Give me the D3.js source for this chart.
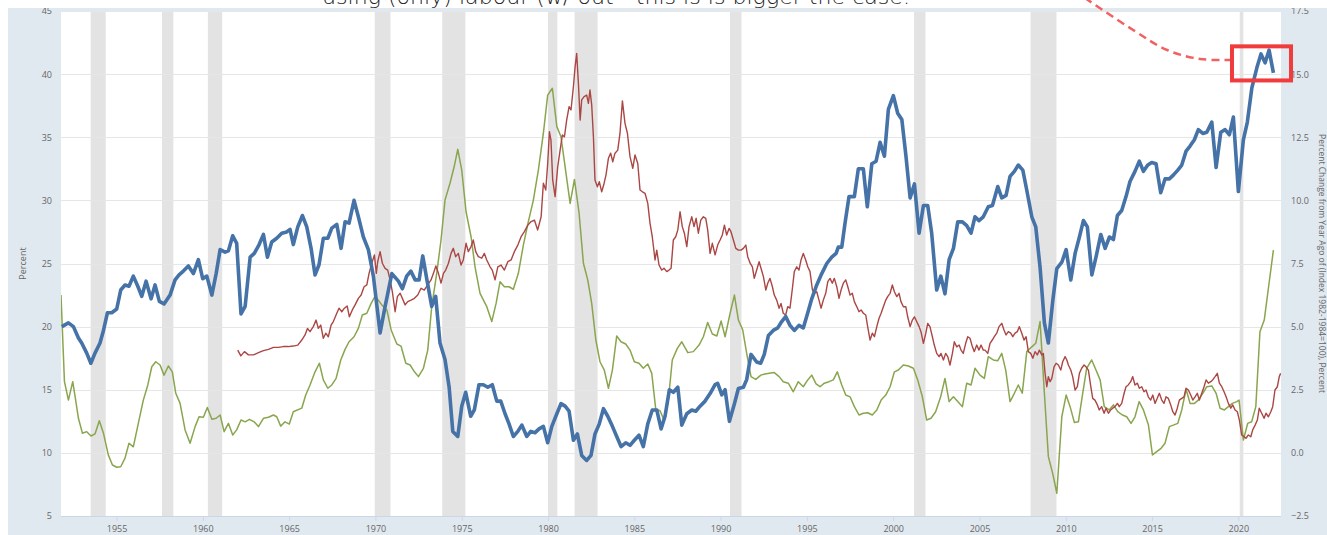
<!DOCTYPE html>
<html><head><meta charset="utf-8">
<script src="https://cdn.jsdelivr.net/npm/d3@7"></script>
<style>
html,body{margin:0;padding:0;background:#fff;}
svg{display:block;}
text{font-family:"Open Sans","DejaVu Sans",sans-serif;}
</style></head>
<body><svg id="c" width="1327" height="535"></svg>
<script>
// ---------- DATA ----------
// Blue series (left axis, Percent), quarterly: [year, value]
const blueSeries = [
[1951.83,20.0],[1952.21,20.3],[1952.50,20.0],[1952.79,19.1],[1952.98,18.7],[1953.27,17.9],[1953.51,17.1],[1953.75,17.9],[1954.04,18.7],[1954.24,19.7],[1954.47,21.1],[1954.72,21.1],[1955.01,21.4],[1955.24,22.9],[1955.49,23.3],[1955.72,23.2],[1955.97,24.0],[1956.23,23.2],[1956.46,22.4],[1956.71,23.6],[1957.00,22.2],[1957.23,23.3],[1957.48,22.0],[1957.75,21.8],[1958.10,22.5],[1958.39,23.7],[1958.62,24.1],[1958.87,24.4],[1959.16,24.8],[1959.45,24.2],[1959.74,25.3],[1959.99,23.8],[1960.23,24.0],[1960.52,22.5],[1960.77,24.2],[1961.00,26.1],[1961.29,25.9],[1961.48,26.0],[1961.73,27.2],[1961.96,26.6],[1962.21,21.0],[1962.45,21.6],[1962.74,25.5],[1962.98,25.8],[1963.26,26.5],[1963.51,27.3],[1963.74,25.5],[1963.99,26.7],[1964.28,27.0],[1964.57,27.4],[1964.86,27.5],[1965.05,27.7],[1965.24,26.5],[1965.50,27.9],[1965.77,28.8],[1966.02,27.9],[1966.27,26.2],[1966.50,24.1],[1966.73,24.9],[1966.98,27.0],[1967.24,27.0],[1967.47,27.8],[1967.76,28.1],[1968.01,26.2],[1968.24,28.3],[1968.47,28.2],[1968.76,30.0],[1969.01,28.7],[1969.30,27.1],[1969.59,26.1],[1969.88,24.0],[1970.27,19.5],[1970.56,21.6],[1970.95,24.2],[1971.33,23.6],[1971.56,23.0],[1971.81,24.0],[1972.05,24.4],[1972.30,23.7],[1972.53,23.7],[1972.74,25.6],[1972.97,23.8],[1973.26,21.6],[1973.49,22.4],[1973.74,18.7],[1974.03,17.4],[1974.27,15.2],[1974.48,11.7],[1974.77,11.3],[1975.00,13.7],[1975.23,14.8],[1975.52,12.9],[1975.73,13.4],[1976.00,15.4],[1976.25,15.4],[1976.51,15.2],[1976.77,15.4],[1977.03,14.1],[1977.26,14.1],[1977.51,13.1],[1977.74,12.3],[1977.99,11.3],[1978.25,11.7],[1978.48,12.2],[1978.77,11.3],[1979.00,11.7],[1979.25,11.6],[1979.48,11.9],[1979.73,12.1],[1979.98,10.8],[1980.22,12.1],[1980.51,13.1],[1980.75,13.9],[1980.99,13.7],[1981.22,13.3],[1981.47,11.0],[1981.70,11.5],[1981.95,9.8],[1982.24,9.4],[1982.49,9.8],[1982.72,11.5],[1982.97,12.3],[1983.21,13.5],[1983.46,12.9],[1983.73,12.1],[1983.98,11.3],[1984.23,10.5],[1984.50,10.8],[1984.75,10.6],[1985.00,11.0],[1985.27,11.4],[1985.52,10.5],[1985.78,12.3],[1986.04,13.4],[1986.30,13.4],[1986.55,11.9],[1986.78,12.9],[1987.03,15.0],[1987.26,14.8],[1987.52,15.2],[1987.75,12.2],[1988.04,13.1],[1988.33,13.4],[1988.56,13.3],[1988.81,13.7],[1989.10,14.1],[1989.39,14.7],[1989.68,15.4],[1989.83,15.5],[1990.07,14.6],[1990.26,15.0],[1990.51,12.5],[1990.80,13.9],[1991.03,15.1],[1991.32,15.2],[1991.51,15.8],[1991.76,17.8],[1992.09,17.2],[1992.32,17.1],[1992.53,17.8],[1992.77,19.3],[1993.05,19.7],[1993.31,19.9],[1993.54,20.4],[1993.77,20.8],[1994.02,20.1],[1994.27,19.7],[1994.54,20.1],[1994.79,19.9],[1995.05,21.1],[1995.28,22.2],[1995.57,23.3],[1995.86,24.2],[1996.15,25.0],[1996.44,25.5],[1996.69,25.8],[1996.82,26.3],[1997.02,26.3],[1997.21,28.2],[1997.44,30.3],[1997.75,30.3],[1997.98,32.5],[1998.27,32.5],[1998.50,29.5],[1998.76,32.9],[1999.01,33.1],[1999.24,34.6],[1999.49,33.5],[1999.72,37.2],[2000.01,38.3],[2000.26,36.9],[2000.50,36.4],[2000.74,33.5],[2000.98,30.2],[2001.23,31.3],[2001.50,27.4],[2001.75,29.6],[2002.00,29.6],[2002.23,27.4],[2002.52,22.9],[2002.76,24.0],[2003.00,22.6],[2003.24,25.3],[2003.49,26.2],[2003.74,28.3],[2004.01,28.3],[2004.26,28.0],[2004.51,27.4],[2004.74,28.7],[2004.97,28.4],[2005.22,28.7],[2005.51,29.5],[2005.75,29.6],[2006.06,31.1],[2006.29,30.2],[2006.54,30.4],[2006.77,31.9],[2007.02,32.3],[2007.25,32.8],[2007.51,32.4],[2007.74,30.8],[2008.03,28.7],[2008.26,27.9],[2008.51,24.7],[2008.76,20.3],[2008.99,18.7],[2009.25,22.1],[2009.48,24.6],[2009.77,25.1],[2010.02,26.1],[2010.29,23.7],[2010.54,25.8],[2010.79,27.1],[2011.02,28.4],[2011.25,27.9],[2011.51,24.1],[2011.75,25.5],[2012.03,27.3],[2012.28,26.2],[2012.53,27.1],[2012.76,26.9],[2012.99,28.8],[2013.24,29.2],[2013.49,30.3],[2013.72,31.5],[2014.01,32.3],[2014.26,33.1],[2014.50,32.3],[2014.75,32.8],[2014.98,33.0],[2015.23,32.9],[2015.50,30.6],[2015.75,31.7],[2016.00,31.7],[2016.23,32.0],[2016.49,32.4],[2016.72,32.8],[2016.97,33.9],[2017.20,34.3],[2017.45,34.8],[2017.68,35.6],[2017.94,35.3],[2018.17,35.4],[2018.46,36.2],[2018.71,32.6],[2018.98,35.4],[2019.23,35.6],[2019.48,35.2],[2019.71,36.6],[2020.00,30.7],[2020.29,34.8],[2020.52,36.2],[2020.78,38.9],[2021.07,40.5],[2021.31,41.6],[2021.55,40.9],[2021.78,41.9],[2022.03,40.1]
];
// Green series (right axis): CPI, percent change from year ago
const greenSeries = [
[1951.78,6.25],[1951.98,2.82],[1952.21,2.09],[1952.46,2.82],[1952.60,2.22],[1952.79,1.37],[1953.02,0.78],[1953.27,0.84],[1953.52,0.67],[1953.75,0.75],[1954.00,1.27],[1954.24,0.78],[1954.52,-0.08],[1954.76,-0.48],[1955.01,-0.57],[1955.24,-0.55],[1955.49,-0.21],[1955.72,0.38],[1955.97,0.24],[1956.26,1.17],[1956.55,2.09],[1956.81,2.69],[1957.04,3.41],[1957.27,3.61],[1957.52,3.48],[1957.75,3.08],[1958.00,3.44],[1958.23,3.21],[1958.43,2.36],[1958.68,1.96],[1958.97,0.91],[1959.26,0.38],[1959.55,1.04],[1959.78,1.43],[1960.03,1.41],[1960.26,1.80],[1960.52,1.33],[1960.77,1.37],[1961.00,1.50],[1961.23,0.84],[1961.48,1.17],[1961.73,0.71],[1961.96,0.91],[1962.21,1.30],[1962.45,1.23],[1962.70,1.33],[1962.97,1.23],[1963.22,1.04],[1963.51,1.37],[1963.80,1.41],[1964.09,1.50],[1964.28,1.43],[1964.51,1.06],[1964.76,1.23],[1965.01,1.14],[1965.24,1.63],[1965.73,1.77],[1965.96,2.29],[1966.21,2.69],[1966.50,3.21],[1966.75,3.55],[1966.98,2.89],[1967.24,2.56],[1967.47,2.69],[1967.72,2.95],[1967.99,3.68],[1968.24,4.10],[1968.47,4.40],[1968.76,4.60],[1969.01,4.93],[1969.24,5.46],[1969.50,5.53],[1969.75,5.92],[1969.98,6.21],[1970.37,5.86],[1970.66,5.66],[1970.91,4.87],[1971.24,4.31],[1971.48,4.23],[1971.76,3.55],[1972.01,3.48],[1972.26,3.21],[1972.49,3.02],[1972.78,3.35],[1973.03,4.07],[1973.26,5.79],[1973.55,7.11],[1973.80,8.43],[1974.03,10.01],[1974.32,10.68],[1974.56,11.33],[1974.77,12.02],[1975.00,11.20],[1975.25,9.55],[1975.54,8.56],[1975.77,7.37],[1976.06,6.32],[1976.45,5.79],[1976.74,5.20],[1976.99,5.92],[1977.22,6.78],[1977.47,6.58],[1977.74,6.58],[1977.99,6.48],[1978.28,7.11],[1978.57,8.23],[1978.86,9.16],[1979.15,10.01],[1979.44,11.20],[1979.73,12.66],[1979.98,14.17],[1980.25,14.44],[1980.51,12.92],[1980.75,12.52],[1980.99,11.33],[1981.28,9.88],[1981.53,10.83],[1981.80,9.49],[1982.05,7.51],[1982.30,6.85],[1982.53,5.92],[1982.77,4.47],[1983.01,3.61],[1983.26,3.28],[1983.50,2.56],[1983.73,3.28],[1983.98,4.63],[1984.23,4.40],[1984.50,4.31],[1984.75,4.07],[1985.00,3.61],[1985.27,3.55],[1985.52,3.35],[1985.78,3.52],[1986.01,3.15],[1986.24,1.73],[1986.49,1.67],[1986.72,1.30],[1986.97,2.09],[1987.20,3.68],[1987.49,4.14],[1987.75,4.40],[1988.10,3.97],[1988.42,4.01],[1988.75,4.27],[1989.00,4.60],[1989.25,5.16],[1989.52,4.71],[1989.78,4.63],[1990.03,5.22],[1990.26,4.60],[1990.55,5.53],[1990.80,6.25],[1991.03,5.26],[1991.28,4.87],[1991.51,3.94],[1991.76,3.02],[1992.04,2.91],[1992.33,3.08],[1992.57,3.12],[1992.82,3.15],[1993.11,3.18],[1993.39,3.02],[1993.63,2.82],[1993.92,2.76],[1994.21,2.42],[1994.50,2.82],[1994.79,2.62],[1995.05,2.89],[1995.28,3.08],[1995.53,2.73],[1995.76,2.62],[1996.01,2.76],[1996.28,2.82],[1996.53,2.89],[1996.76,3.21],[1997.02,2.69],[1997.25,2.29],[1997.50,2.22],[1997.75,1.83],[1998.02,1.50],[1998.27,1.57],[1998.52,1.59],[1998.79,1.50],[1999.05,1.70],[1999.30,2.09],[1999.57,2.29],[1999.82,2.62],[2000.07,3.21],[2000.30,3.28],[2000.59,3.48],[2000.88,3.44],[2001.17,3.35],[2001.42,2.89],[2001.69,2.22],[2001.94,1.30],[2002.19,1.37],[2002.46,1.63],[2002.75,2.22],[2003.00,2.95],[2003.24,2.03],[2003.49,2.22],[2003.74,2.03],[2004.01,1.83],[2004.26,2.76],[2004.51,2.69],[2004.74,3.35],[2005.03,3.08],[2005.28,2.95],[2005.51,3.81],[2005.80,3.68],[2006.06,3.65],[2006.29,3.94],[2006.52,3.28],[2006.77,2.03],[2007.02,2.36],[2007.25,2.69],[2007.48,2.36],[2007.74,4.01],[2008.03,4.20],[2008.26,4.34],[2008.51,5.20],[2008.76,2.36],[2008.99,-0.15],[2009.24,-0.81],[2009.48,-1.60],[2009.77,1.43],[2010.02,2.29],[2010.25,1.83],[2010.50,1.20],[2010.73,1.23],[2010.98,2.36],[2011.21,3.35],[2011.50,3.68],[2011.75,3.28],[2011.99,2.89],[2012.23,1.83],[2012.51,1.70],[2012.76,1.90],[2013.01,1.63],[2013.28,1.50],[2013.53,1.43],[2013.78,1.17],[2014.01,1.43],[2014.25,2.03],[2014.50,1.70],[2014.79,1.10],[2015.02,-0.08],[2015.27,0.05],[2015.52,0.18],[2015.75,0.38],[2016.00,1.04],[2016.23,1.10],[2016.49,1.17],[2016.72,1.70],[2016.97,2.52],[2017.20,1.96],[2017.45,1.96],[2017.68,2.09],[2017.94,2.36],[2018.17,2.62],[2018.46,2.65],[2018.71,2.36],[2018.94,1.77],[2019.19,1.70],[2019.42,1.83],[2019.65,1.96],[2019.91,2.03],[2020.04,2.09],[2020.29,0.51],[2020.54,1.17],[2020.77,1.23],[2021.01,1.83],[2021.25,4.80],[2021.50,5.26],[2021.74,6.52],[2022.03,8.03]
];
// Red series (right axis): 10-year yield, percent
const redSeries = [
[1962.02,4.07],[1962.20,3.84],[1962.41,4.01],[1962.64,3.88],[1962.93,3.88],[1963.22,3.97],[1963.51,4.05],[1963.80,4.10],[1964.09,4.18],[1964.38,4.18],[1964.66,4.21],[1964.95,4.21],[1965.24,4.23],[1965.50,4.27],[1965.73,4.47],[1965.92,4.67],[1966.06,4.93],[1966.21,4.80],[1966.40,5.00],[1966.56,5.26],[1966.69,4.93],[1966.83,5.06],[1966.98,4.54],[1967.12,4.74],[1967.27,4.60],[1967.43,5.06],[1967.56,5.20],[1967.76,5.53],[1967.89,5.73],[1968.05,5.59],[1968.20,5.73],[1968.36,5.82],[1968.49,5.39],[1968.66,5.66],[1968.82,5.86],[1969.01,6.12],[1969.17,6.25],[1969.34,6.58],[1969.50,6.65],[1969.63,7.11],[1969.79,7.51],[1969.94,7.84],[1970.05,7.11],[1970.13,7.57],[1970.27,7.97],[1970.40,7.51],[1970.56,7.31],[1970.71,7.24],[1970.85,6.85],[1970.98,6.38],[1971.14,5.59],[1971.27,6.19],[1971.43,6.32],[1971.56,6.12],[1971.72,5.86],[1971.87,5.99],[1972.06,6.05],[1972.26,6.12],[1972.45,6.25],[1972.64,6.52],[1972.83,6.45],[1973.03,6.65],[1973.22,6.85],[1973.36,7.11],[1973.50,7.40],[1973.65,7.11],[1973.80,6.72],[1973.94,7.11],[1974.07,7.24],[1974.23,7.51],[1974.38,7.90],[1974.51,8.10],[1974.65,7.77],[1974.80,7.90],[1974.96,7.44],[1975.09,7.64],[1975.25,8.30],[1975.38,7.97],[1975.54,8.17],[1975.67,8.43],[1975.81,7.97],[1975.96,7.77],[1976.16,7.71],[1976.31,7.90],[1976.45,7.64],[1976.64,7.37],[1976.77,7.24],[1976.93,6.85],[1977.09,7.37],[1977.28,7.44],[1977.47,7.24],[1977.67,7.57],[1977.86,7.64],[1978.05,7.97],[1978.25,8.23],[1978.44,8.56],[1978.63,8.76],[1978.83,9.02],[1979.02,9.16],[1979.21,9.22],[1979.40,8.83],[1979.60,9.35],[1979.73,10.68],[1979.87,10.41],[1979.98,11.46],[1980.08,12.72],[1980.17,12.39],[1980.27,10.81],[1980.41,10.15],[1980.56,11.33],[1980.70,11.99],[1980.83,12.59],[1980.95,12.52],[1981.08,13.18],[1981.22,13.71],[1981.33,13.58],[1981.47,14.50],[1981.57,15.30],[1981.66,15.82],[1981.76,14.64],[1981.86,13.18],[1981.95,13.98],[1982.09,14.11],[1982.24,14.17],[1982.34,13.84],[1982.43,14.37],[1982.53,13.78],[1982.63,12.52],[1982.72,10.81],[1982.86,10.54],[1982.97,10.74],[1983.11,10.34],[1983.25,10.68],[1983.36,11.01],[1983.50,11.67],[1983.63,11.87],[1983.75,11.53],[1983.88,11.87],[1984.04,11.99],[1984.17,12.66],[1984.31,13.94],[1984.46,13.05],[1984.60,12.66],[1984.75,11.73],[1984.91,11.27],[1985.04,11.80],[1985.20,11.46],[1985.33,10.41],[1985.47,10.34],[1985.62,10.28],[1985.78,9.88],[1985.91,9.09],[1986.04,8.56],[1986.20,7.64],[1986.30,8.03],[1986.43,7.44],[1986.59,7.24],[1986.72,7.31],[1986.88,7.18],[1987.01,7.24],[1987.13,7.31],[1987.26,8.43],[1987.40,8.56],[1987.52,8.83],[1987.65,9.55],[1987.78,8.96],[1987.90,8.70],[1988.04,8.17],[1988.17,8.96],[1988.33,9.35],[1988.46,8.96],[1988.58,9.29],[1988.71,8.70],[1988.85,9.22],[1989.00,9.35],[1989.14,9.29],[1989.25,8.83],[1989.39,7.90],[1989.52,8.30],[1989.68,7.84],[1989.83,8.23],[1989.97,8.43],[1990.10,8.63],[1990.22,9.02],[1990.35,8.63],[1990.49,8.89],[1990.60,8.76],[1990.74,8.43],[1990.88,8.10],[1991.03,8.03],[1991.18,8.03],[1991.32,8.10],[1991.46,8.23],[1991.57,7.77],[1991.71,7.51],[1991.84,7.37],[1991.95,6.91],[1992.09,7.24],[1992.23,7.57],[1992.34,7.31],[1992.48,6.98],[1992.62,6.45],[1992.73,6.72],[1992.86,6.91],[1993.00,6.58],[1993.11,6.25],[1993.25,6.05],[1993.39,5.73],[1993.50,5.92],[1993.63,5.53],[1993.77,5.46],[1993.89,5.79],[1994.02,5.73],[1994.16,6.52],[1994.27,7.18],[1994.41,7.37],[1994.54,7.24],[1994.66,7.64],[1994.79,7.90],[1994.93,7.64],[1995.05,7.37],[1995.18,7.18],[1995.32,6.45],[1995.43,6.32],[1995.57,6.38],[1995.70,6.05],[1995.82,5.73],[1995.95,6.05],[1996.09,6.32],[1996.21,6.78],[1996.34,6.91],[1996.47,6.72],[1996.59,6.91],[1996.73,6.58],[1996.86,6.12],[1996.98,6.45],[1997.11,6.72],[1997.25,6.85],[1997.37,6.58],[1997.50,6.25],[1997.63,6.32],[1997.75,5.99],[1997.89,5.79],[1998.02,5.59],[1998.14,5.66],[1998.27,5.53],[1998.41,5.46],[1998.52,5.00],[1998.66,4.47],[1998.79,4.74],[1998.91,4.60],[1999.05,5.00],[1999.18,5.33],[1999.30,5.53],[1999.43,5.79],[1999.57,6.05],[1999.68,6.19],[1999.82,6.32],[1999.95,6.65],[2000.07,6.38],[2000.21,6.19],[2000.34,6.32],[2000.45,5.99],[2000.59,5.79],[2000.73,5.79],[2000.84,5.39],[2000.98,5.00],[2001.11,5.26],[2001.23,5.39],[2001.36,5.20],[2001.50,5.00],[2001.61,4.80],[2001.75,4.34],[2001.89,4.74],[2002.00,5.13],[2002.13,5.00],[2002.27,4.60],[2002.38,4.27],[2002.52,3.94],[2002.66,3.81],[2002.77,3.94],[2002.91,3.68],[2003.04,3.94],[2003.16,3.81],[2003.29,3.48],[2003.43,3.94],[2003.54,4.40],[2003.68,4.20],[2003.82,4.27],[2003.93,4.07],[2004.06,3.94],[2004.20,4.34],[2004.32,4.60],[2004.45,4.54],[2004.59,4.20],[2004.70,4.01],[2004.84,4.27],[2004.97,4.07],[2005.09,4.27],[2005.22,4.07],[2005.32,4.07],[2005.48,3.94],[2005.61,4.34],[2005.74,4.47],[2005.86,4.60],[2006.00,4.74],[2006.13,5.00],[2006.29,5.13],[2006.42,4.87],[2006.54,4.67],[2006.67,4.80],[2006.81,4.74],[2006.93,4.60],[2007.06,4.74],[2007.19,4.80],[2007.31,5.00],[2007.45,4.74],[2007.58,4.47],[2007.70,4.60],[2007.83,4.01],[2007.97,3.94],[2008.09,3.75],[2008.22,4.01],[2008.35,3.88],[2008.47,4.07],[2008.61,3.88],[2008.70,3.94],[2008.80,3.15],[2008.90,2.62],[2008.99,3.02],[2009.09,2.82],[2009.19,2.95],[2009.32,3.41],[2009.44,3.55],[2009.57,3.48],[2009.71,3.28],[2009.82,3.61],[2009.96,3.81],[2010.06,3.68],[2010.15,3.48],[2010.29,3.28],[2010.40,3.02],[2010.54,2.49],[2010.67,2.62],[2010.79,3.15],[2010.92,3.35],[2011.06,3.48],[2011.17,3.41],[2011.31,3.28],[2011.45,2.62],[2011.56,2.16],[2011.69,2.09],[2011.83,1.90],[2011.94,1.70],[2012.08,1.83],[2012.22,1.57],[2012.33,1.77],[2012.47,1.57],[2012.60,1.70],[2012.72,1.77],[2012.85,1.83],[2012.99,1.96],[2013.10,1.83],[2013.24,1.96],[2013.38,2.36],[2013.49,2.62],[2013.62,2.69],[2013.76,2.82],[2013.88,3.02],[2014.01,2.69],[2014.15,2.76],[2014.26,2.56],[2014.40,2.62],[2014.53,2.42],[2014.65,2.49],[2014.78,2.22],[2014.92,2.09],[2015.04,2.29],[2015.17,1.96],[2015.30,2.16],[2015.42,2.36],[2015.56,2.09],[2015.69,1.96],[2015.81,2.22],[2015.94,2.16],[2016.08,1.90],[2016.20,1.63],[2016.33,1.50],[2016.46,1.77],[2016.58,2.09],[2016.72,2.16],[2016.85,2.22],[2016.97,2.56],[2017.10,2.49],[2017.24,2.29],[2017.36,2.09],[2017.49,2.22],[2017.62,2.36],[2017.74,2.09],[2017.88,2.36],[2018.01,2.62],[2018.13,2.89],[2018.26,2.76],[2018.40,2.82],[2018.51,2.89],[2018.65,3.02],[2018.78,3.15],[2018.90,2.76],[2019.04,2.62],[2019.17,2.42],[2019.29,2.22],[2019.42,1.96],[2019.56,1.77],[2019.67,1.90],[2019.81,1.70],[2019.94,1.63],[2020.06,1.30],[2020.19,0.71],[2020.33,0.64],[2020.44,0.58],[2020.58,0.71],[2020.72,0.64],[2020.83,0.91],[2020.97,1.10],[2021.10,1.30],[2021.21,1.77],[2021.35,1.57],[2021.49,1.37],[2021.60,1.57],[2021.74,1.43],[2021.88,1.63],[2021.99,1.83],[2022.12,2.49],[2022.26,2.62],[2022.37,3.02],[2022.45,3.15]
];
// Recessions (shaded), [start, end] in years
const recessions = [[1953.50,1954.37],[1957.63,1958.29],[1960.29,1961.12],[1969.96,1970.87],[1973.87,1975.21],[1980.00,1980.54],[1981.54,1982.87],[1990.54,1991.21],[2001.21,2001.87],[2007.96,2009.46],[2020.08,2020.29]];
// Tick labels
const xTicks = [1955,1960,1965,1970,1975,1980,1985,1990,1995,2000,2005,2010,2015,2020];
const leftTicks = [5,10,15,20,25,30,35,40,45];
const rightTicks = [-2.5,0,2.5,5,7.5,10,12.5,15,17.5];
const leftTitle = "Percent";
const rightTitle = "Percent Change from Year Ago of (Index 1982-1984=100), Percent";
const noteText = "using (only) labour (w/ out - this is is bigger the case.";
// Annotation (in data units): highlight box around the latest values and a dashed arrow curve
const noteBox = {x0: 2019.63, x1: 2023.05, y0: 42.2, y1: 39.5};
const noteCurve = [[2011.11, 46.03], [2013.90, 43.50], [2015.87, 41.91], [2017.78, 41.20], [2019.63, 41.12]];

// ---------- CHART ----------
const W = 1327, H = 535;
const plot = {left: 61, right: 1281, top: 11, bottom: 516};
const svg = d3.select("#c");

const x = d3.scaleLinear().domain([1951.78, 2022.47]).range([plot.left, plot.right]);
const yL = d3.scaleLinear().domain([5, 45]).range([plot.bottom, plot.top]);
const yR = d3.scaleLinear().domain([-2.5, 17.5]).range([plot.bottom, plot.top]);

// background
svg.append("rect").attr("x", 8).attr("y", 8).attr("width", W - 8).attr("height", H - 8).attr("fill", "#e1e9f0");
svg.append("rect").attr("x", plot.left).attr("y", plot.top).attr("width", plot.right - plot.left)
  .attr("height", plot.bottom - plot.top).attr("fill", "#ffffff");

svg.append("defs").append("clipPath").attr("id", "clip").append("rect")
  .attr("x", plot.left).attr("y", plot.top).attr("width", plot.right - plot.left).attr("height", plot.bottom - plot.top);

// recession bars
svg.append("g").selectAll("rect").data(recessions).join("rect")
  .attr("x", d => x(d[0])).attr("width", d => x(d[1]) - x(d[0]))
  .attr("y", plot.top).attr("height", plot.bottom - plot.top).attr("fill", "#e3e3e3");

// grid lines
svg.append("g").selectAll("line").data(leftTicks.slice(1)).join("line")
  .attr("x1", plot.left).attr("x2", plot.right)
  .attr("y1", d => Math.round(yL(d)) + 0.5).attr("y2", d => Math.round(yL(d)) + 0.5)
  .attr("stroke", "#e6e6e6").attr("stroke-width", 1);

// axes
const axL = d3.axisLeft(yL).tickValues(leftTicks).tickSize(0).tickPadding(9);
const gL = svg.append("g").attr("transform", `translate(${plot.left},0)`).call(axL);
const axR = d3.axisRight(yR).tickValues(rightTicks).tickSize(0).tickPadding(10).tickFormat(d3.format(".1f"));
const gR = svg.append("g").attr("transform", `translate(${plot.right},0)`).call(axR);
const axB = d3.axisBottom(x).tickValues(xTicks).tickSize(5).tickPadding(5).tickFormat(d3.format("d"));
const gB = svg.append("g").attr("transform", `translate(0,${plot.bottom})`).call(axB);
[gL, gR, gB].forEach(g => {
  g.select(".domain").remove();
  g.selectAll("text").attr("fill", "#666").style("font-size", "9px").style("font-family", '"Open Sans", sans-serif');
});
gB.selectAll(".tick line").attr("stroke", "#ccd6eb");
svg.append("line").attr("x1", plot.left).attr("x2", plot.right).attr("y1", plot.bottom + 0.5).attr("y2", plot.bottom + 0.5)
  .attr("stroke", "#ccd6eb");

// axis titles
svg.append("text").attr("transform", `translate(26,${(plot.top + plot.bottom) / 2}) rotate(-90)`)
  .attr("text-anchor", "middle").attr("fill", "#666").style("font-size", "9px").text(leftTitle);
svg.append("text").attr("transform", `translate(1319,${(plot.top + plot.bottom) / 2}) rotate(90)`)
  .attr("text-anchor", "middle").attr("fill", "#666").style("font-size", "8.5px").text(rightTitle);

// lines
const lines = svg.append("g").attr("clip-path", "url(#clip)");
const lineR = d3.line().x(d => x(d[0])).y(d => yR(d[1]));
const lineL = d3.line().x(d => x(d[0])).y(d => yL(d[1]));
lines.append("path").datum(greenSeries).attr("d", lineR).attr("fill", "none")
  .attr("stroke", "#89a54e").attr("stroke-width", 1.5).attr("stroke-linejoin", "round");
lines.append("path").datum(redSeries).attr("d", lineR).attr("fill", "none")
  .attr("stroke", "#aa4643").attr("stroke-width", 1.4).attr("stroke-linejoin", "round");
lines.append("path").datum(blueSeries).attr("d", lineL).attr("fill", "none")
  .attr("stroke", "#4572a7").attr("stroke-width", 3.6).attr("stroke-linejoin", "round");

// top annotation text (its upper part runs off the top edge, as in the screenshot)
svg.append("rect").attr("x", 0).attr("y", 0).attr("width", W).attr("height", 8).attr("fill", "#fff");
svg.append("text").attr("x", 322).attr("y", 4).attr("fill", "#222").style("font-size", "21px")
  .attr("textLength", 588).attr("lengthAdjust", "spacingAndGlyphs")
  .style("font-family", '"DejaVu Sans", sans-serif').style("font-weight", "300").text(noteText);

// red annotation: dashed curve + box
svg.append("path")
  .attr("d", d3.line().curve(d3.curveCatmullRom).x(d => x(d[0])).y(d => yL(d[1]))(noteCurve))
  .attr("fill", "none").attr("stroke", "#f26060").attr("stroke-width", 2.5).attr("stroke-dasharray", "8,5");
svg.append("rect").attr("x", x(noteBox.x0)).attr("y", yL(noteBox.y0))
  .attr("width", x(noteBox.x1) - x(noteBox.x0)).attr("height", yL(noteBox.y1) - yL(noteBox.y0))
  .attr("fill", "none").attr("stroke", "#f03c3c").attr("stroke-width", 4);
</script></body></html>
